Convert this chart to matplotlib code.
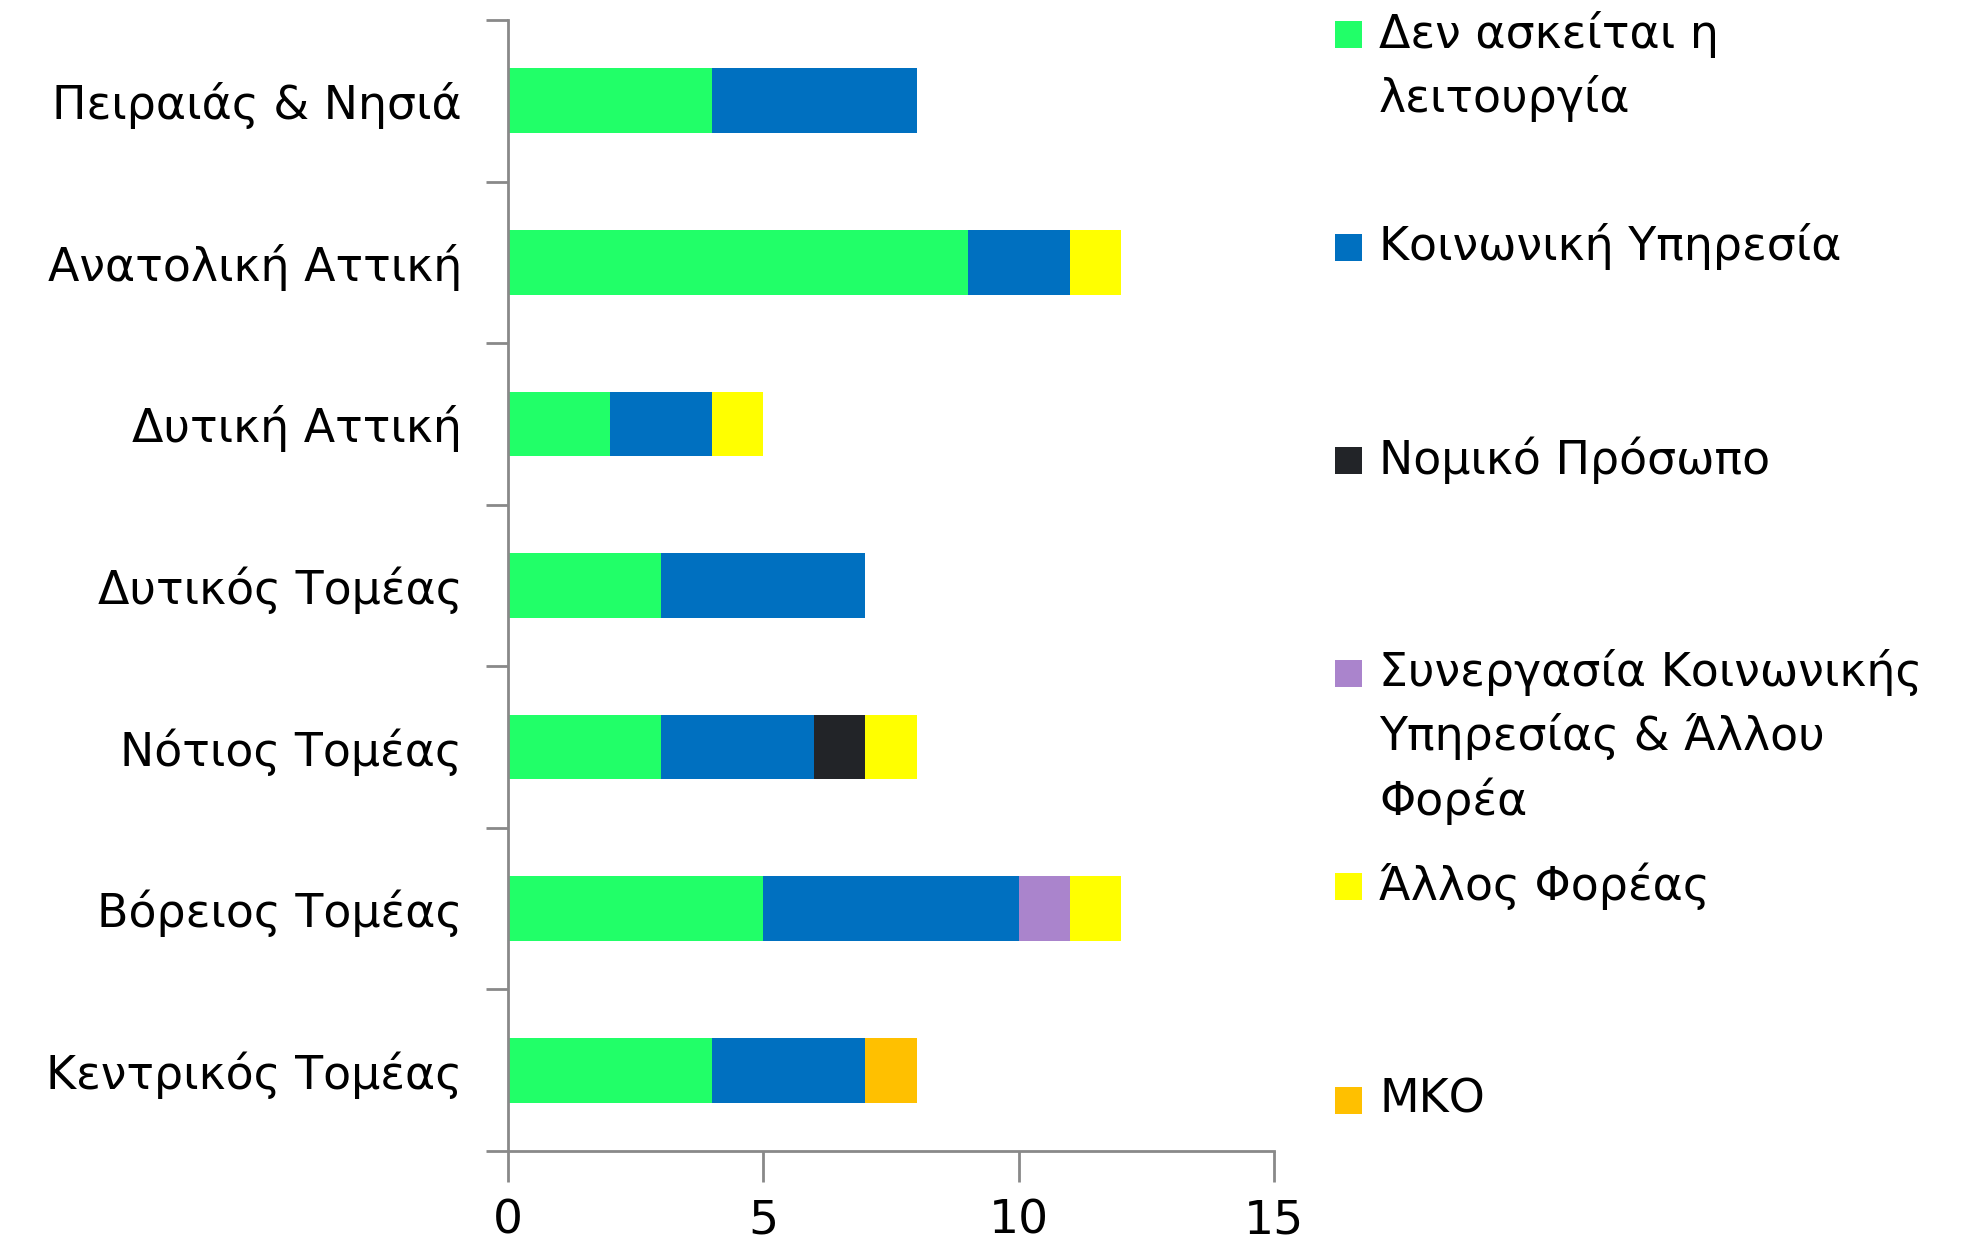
import numpy as np
import matplotlib.pyplot as plt
from matplotlib.patches import Rectangle

plt.rcParams['font.family'] = ['DejaVu Sans']

# Data
regions = ['Πειραιάς & Νησιά', 'Ανατολική Αττική', 'Δυτική Αττική', 'Δυτικός Τομέας',
           'Νότιος Τομέας', 'Βόρειος Τομέας', 'Κεντρικός Τομέας']
series = ['Δεν ασκείται η\nλειτουργία', 'Κοινωνική Υπηρεσία', 'Νομικό Πρόσωπο',
          'Συνεργασία Κοινωνικής\nΥπηρεσίας & Άλλου\nΦορέα', 'Άλλος Φορέας', 'ΜΚΟ']
not_operating = [4, 9, 2, 3, 3, 5, 4]
social_service = [4, 2, 2, 4, 3, 5, 3]
legal_entity = [0, 0, 0, 0, 1, 0, 0]
cooperation = [0, 0, 0, 0, 0, 1, 0]
other_body = [0, 1, 1, 0, 1, 1, 0]
ngo = [0, 0, 0, 0, 0, 0, 1]
colors = ['#21FF68', '#0070C0', '#222428', '#AA84CC', '#FFFF00', '#FFC000']

values = [not_operating, social_service, legal_entity, cooperation, other_body, ngo]

W, H = 1966, 1251
fig = plt.figure(figsize=(W / 100, H / 100), dpi=100)
ax = fig.add_axes([508 / W, 1 - 1151 / H, (1274 - 508) / W, (1151 - 20) / H])

y = np.arange(len(regions))
left = np.zeros(len(regions))
for vals, c in zip(values, colors):
    vals = np.array(vals, dtype=float)
    ax.barh(y, vals, left=left, height=0.4, color=c, linewidth=0)
    left += vals

ax.set_ylim(len(regions) - 0.5, -0.5)
ax.set_xlim(0, 15)
ax.set_xticks([0, 5, 10, 15])
ax.set_yticks(y)
ax.set_yticklabels(regions)
ax.set_yticks(np.arange(-0.5, len(regions), 1), minor=True)

axis_grey = '#898989'
for s in ['top', 'right']:
    ax.spines[s].set_visible(False)
for s in ['left', 'bottom']:
    ax.spines[s].set_color(axis_grey)
    ax.spines[s].set_linewidth(2)

ax.tick_params(axis='y', which='major', length=0, pad=33, labelsize=33)
ax.tick_params(axis='y', which='minor', length=16, width=2, color=axis_grey)
ax.tick_params(axis='x', length=22, width=2, color=axis_grey, pad=12, labelsize=34)

# Legend drawn by hand so the patch sits beside the first line of each entry
centers = [34, 247, 460, 673, 886, 1100]
for label, c, cy in zip(series, colors, centers):
    fig.patches.append(Rectangle((1335 / W, 1 - (cy + 14) / H), 27 / W, 27 / H,
                                 facecolor=c, transform=fig.transFigure))
    for i, line in enumerate(label.split('\n')):
        fig.text(1379 / W, 1 - (cy + i * 64) / H, line, va='center', ha='left', fontsize=33)

fig.savefig('out.png', dpi=100)
